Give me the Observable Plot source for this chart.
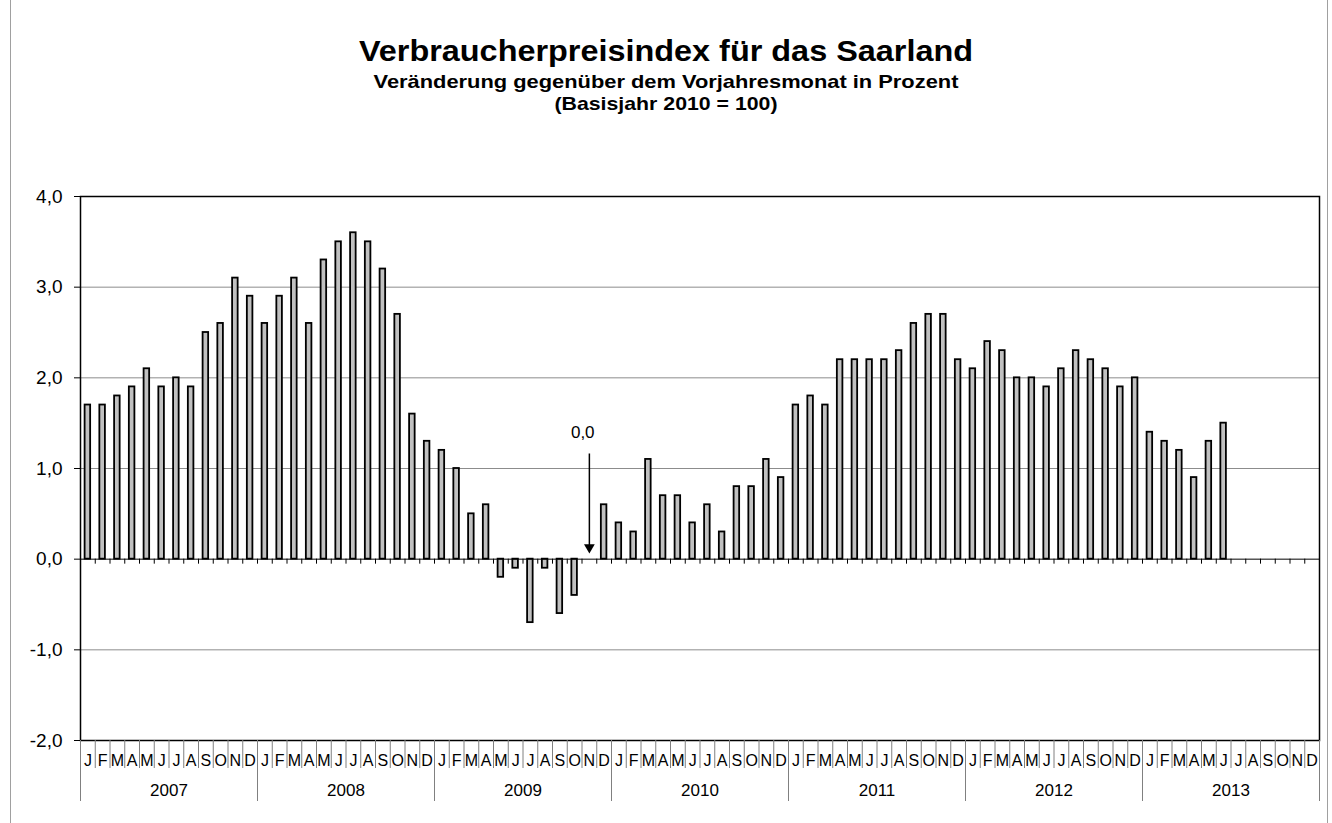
<!DOCTYPE html>
<html>
<head>
<meta charset="utf-8">
<script src="https://cdn.jsdelivr.net/npm/d3@7"></script>
<script src="https://cdn.jsdelivr.net/npm/@observablehq/plot@0.6"></script>
<style>
  html, body { margin: 0; padding: 0; background: #fff; }
  #wrap { position: relative; width: 1332px; height: 823px; overflow: hidden; font-family: "Liberation Sans", Arial, sans-serif; }
  .edge { position: absolute; top: 0; width: 1px; height: 823px; background: #a0a0a0; }
  #head { position: relative; height: 140px; }
  .tl { position: absolute; left: 0; width: 1332px; text-align: center; font-weight: bold; color: #000; white-space: nowrap; }
  #t1 { top: 36px; font-size: 30px; line-height: 30px; transform: scaleX(1.08); }
  #t2 { top: 72px; font-size: 19px; line-height: 19px; transform: scaleX(1.15); }
  #t3 { top: 94px; font-size: 19px; line-height: 19px; transform: scaleX(1.12); }
  #chart svg { display: block; }
</style>
</head>
<body>
<div id="wrap">
  <div class="edge" style="left:10px"></div>
  <div class="edge" style="left:1327px"></div>
  <div id="head">
    <div class="tl" id="t1">Verbraucherpreisindex für das Saarland</div>
    <div class="tl" id="t2">Veränderung gegenüber dem Vorjahresmonat in Prozent</div>
    <div class="tl" id="t3">(Basisjahr 2010 = 100)</div>
  </div>
  <div id="chart"></div>
</div>
<script>
// ---- data ----
const monthLetters = ["J","F","M","A","M","J","J","A","S","O","N","D"];
const years = [2007, 2008, 2009, 2010, 2011, 2012, 2013];
const v2007 = [1.7, 1.7, 1.8, 1.9, 2.1, 1.9, 2.0, 1.9, 2.5, 2.6, 3.1, 2.9];
const v2008 = [2.6, 2.9, 3.1, 2.6, 3.3, 3.5, 3.6, 3.5, 3.2, 2.7, 1.6, 1.3];
const v2009 = [1.2, 1.0, 0.5, 0.6, -0.2, -0.1, -0.7, -0.1, -0.6, -0.4, 0.0, 0.6];
const v2010 = [0.4, 0.3, 1.1, 0.7, 0.7, 0.4, 0.6, 0.3, 0.8, 0.8, 1.1, 0.9];
const v2011 = [1.7, 1.8, 1.7, 2.2, 2.2, 2.2, 2.2, 2.3, 2.6, 2.7, 2.7, 2.2];
const v2012 = [2.1, 2.4, 2.3, 2.0, 2.0, 1.9, 2.1, 2.3, 2.2, 2.1, 1.9, 2.0];
const v2013 = [1.4, 1.3, 1.2, 0.9, 1.3, 1.5, null, null, null, null, null, null];
const yTicks = [-2, -1, 0, 1, 2, 3, 4];
const gridValues = [-1, 1, 2, 3];
// annotation "0,0" pointing to November 2009
const annotYear = 2009, annotMonth = 10, annotText = "0,0";
const annotLabelY = 1.4, annotLineTop = 1.16, annotLineBottom = 0.13;

// ---- build tables ----
const yearValues = [v2007, v2008, v2009, v2010, v2011, v2012, v2013];
const cells = [];
yearValues.forEach((arr, yi) => arr.forEach((v, mi) => {
  cells.push({i: yi * 12 + mi, year: years[yi], m: monthLetters[mi], v});
}));
const bars = cells.filter(d => d.v != null);
const nMonths = cells.length;
const monthBounds = d3.range(0, nMonths + 1);
const innerBounds = d3.range(1, nMonths);
const yearBounds = d3.range(0, years.length + 1).map(k => k * 12);
const annotX = (annotYear - years[0]) * 12 + annotMonth + 0.5;
const fmt = d => d3.format(".1f")(d).replace(".", ",").replace("−", "-");

const chart = Plot.plot({
  width: 1332,
  height: 683,
  marginTop: 56,
  marginBottom: 83,
  marginLeft: 80,
  marginRight: 13,
  style: {fontFamily: "Liberation Sans, Arial, sans-serif", fontSize: "16px", background: "transparent", color: "#000"},
  x: {type: "linear", domain: [0, nMonths], axis: null},
  y: {domain: [-2, 4], axis: null},
  marks: [
    Plot.ruleY(gridValues, {stroke: "#8c8c8c", strokeWidth: 1}),
    Plot.rectY(bars, {x1: d => d.i, x2: d => d.i + 1, y: "v", insetLeft: 4.6, insetRight: 4.6, fill: "#c0c0c0", stroke: "#000", strokeWidth: 1.8}),
    Plot.ruleY([0], {stroke: "#000", strokeWidth: 1}),
    Plot.ruleX(innerBounds, {x: d => d, y1: 0, y2: 0, insetBottom: -5, stroke: "#000", strokeWidth: 1}),
    Plot.frame({stroke: "#000", strokeWidth: 1.5}),
    Plot.axisY({ticks: yTicks, tickSize: 6, tickPadding: 12, tickFormat: fmt, fontSize: 19, label: null, stroke: "#000"}),
    // month separators and letters
    Plot.ruleX(monthBounds, {x: d => d, y1: -2, y2: -2, insetBottom: -28, stroke: "#808080", strokeWidth: 1}),
    Plot.text(cells, {x: d => d.i + 0.5, y: -2, text: "m", dy: 20, fontSize: 16, fill: "#000"}),
    // year separators and labels
    Plot.ruleX(yearBounds, {x: d => d, y1: -2, y2: -2, insetBottom: -61, stroke: "#808080", strokeWidth: 1}),
    Plot.text(years, {x: (d, k) => k * 12 + 6, y: -2, text: d => String(d), dy: 50, fontSize: 17, fill: "#000"}),
    // annotation
    Plot.ruleX([annotX], {x: d => d, y1: annotLineTop, y2: annotLineBottom, stroke: "#000", strokeWidth: 1.5}),
    Plot.dot([annotX], {x: d => d, y: annotLineBottom, symbol: "triangle", rotate: 180, r: 4, fill: "#000", stroke: "none"}),
    Plot.text([annotText], {x: annotX - 0.45, y: annotLabelY, text: d => d, fontSize: 17, fill: "#000"})
  ]
});
document.getElementById("chart").appendChild(chart);
</script>
</body>
</html>
